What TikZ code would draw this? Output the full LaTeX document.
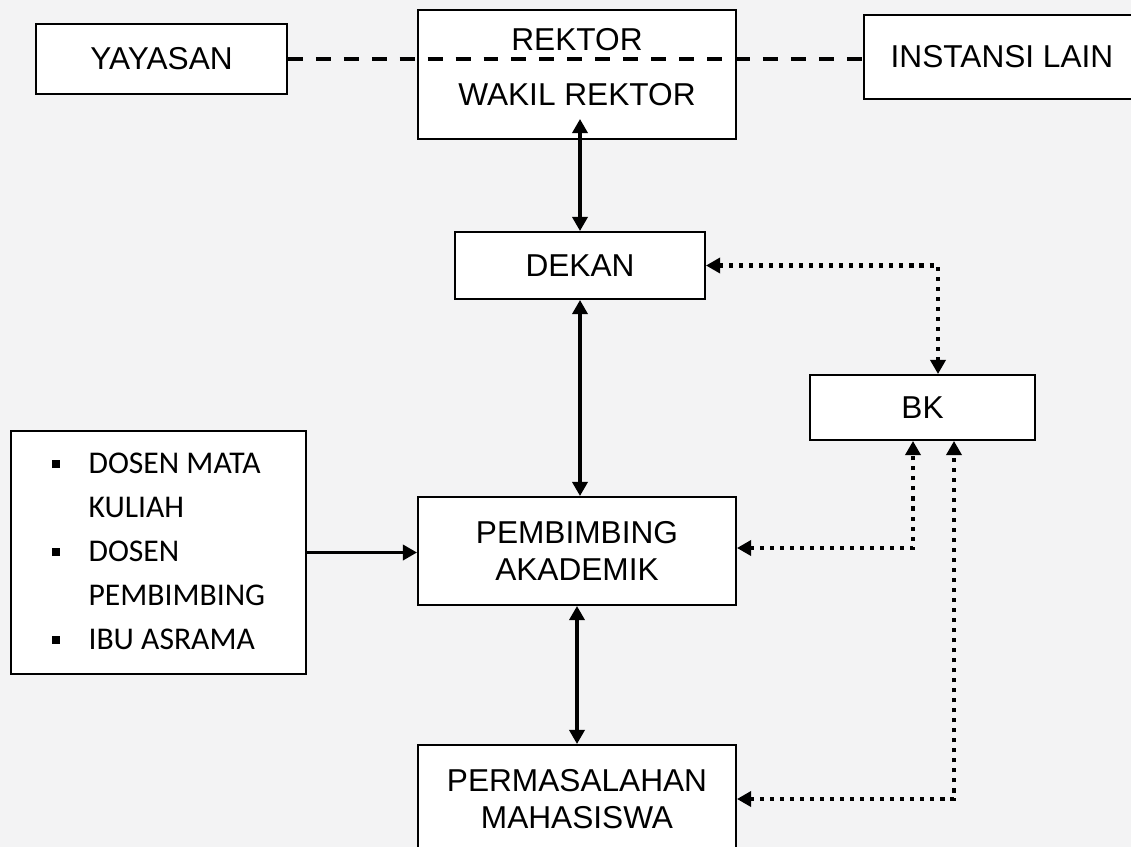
\documentclass[tikz,border=0pt]{standalone}
\usepackage{fontspec}
\setmainfont{Liberation Sans}
\newfontfamily\listfont{Carlito}
\usepackage{xcolor}
\usetikzlibrary{arrows.meta, positioning, calc}
\definecolor{bgpaper}{RGB}{243,243,244}

\begin{document}
\begin{tikzpicture}[
  box/.style={rectangle, draw=black, line width=1.1pt, fill=white, align=center, font=\fontsize{18}{21}\selectfont},
  boxtext/.style={inner sep=0pt, font=\fontsize{18}{21}\selectfont},
  arrow/.style={{Triangle[length=8pt,width=8.5pt]}-{Triangle[length=8pt,width=8.5pt]}, line width=2.2pt},
  onearrow/.style={-{Triangle[length=8pt,width=8.5pt]}, line width=2.2pt},
  dotline/.style={{Triangle[length=8pt,width=8.5pt]}-{Triangle[length=8pt,width=8.5pt]}, line width=2.3pt, dash pattern=on 2.3pt off 3.4pt},
  dashline/.style={line width=2pt, dash pattern=on 8.5pt off 7.4pt}
]
  % Page
  \fill[bgpaper] (0,0) rectangle (22.62,-16.94);
  \useasboundingbox (0,0) rectangle (22.62,-16.94);

  % Top row
  \node[box, minimum width=5.02cm, minimum height=1.4cm] (yayasan) at (3.23,-1.18) {YAYASAN};
  \node[box, minimum width=6.36cm, minimum height=2.58cm] (rektor) at (11.54,-1.49) {};
  \node[box, minimum width=5.52cm, minimum height=1.68cm] (instansi) at (20.04,-1.14) {INSTANSI LAIN};
  \draw[dashline] (yayasan.east) -- (yayasan.east -| instansi.west);
  \node[boxtext] (rektorlbl) at (11.54,-0.8) {REKTOR};
  \node[boxtext] (wakillbl) at (11.54,-1.9) {WAKIL REKTOR};

  % Middle
  \node[box, minimum width=5cm, minimum height=1.34cm] (dekan) at (11.6,-5.31) {DEKAN};
  \node[box, minimum width=4.5cm, minimum height=1.3cm] (bk) at (18.45,-8.15) {BK};
  \node[box, minimum width=6.36cm, minimum height=2.16cm] (pa) at (11.54,-11.02) {PEMBIMBING\\AKADEMIK};
  \node[box, minimum width=5.9cm, minimum height=4.86cm, font=\listfont\fontsize{18}{25}\selectfont] (dosen) at (3.17,-11.05) {%
    \begin{tabular}{@{}l@{\hspace{16.4pt}}l@{}}
      \raisebox{3pt}{\rule{4.5pt}{4.5pt}} & DOSEN MATA\\
      & KULIAH\\
      \raisebox{3pt}{\rule{4.5pt}{4.5pt}} & DOSEN\\
      & PEMBIMBING\\
      \raisebox{3pt}{\rule{4.5pt}{4.5pt}} & IBU ASRAMA
    \end{tabular}};

  % Bottom
  \node[box, minimum width=6.36cm, minimum height=2.16cm] (pm) at (11.54,-15.98) {PERMASALAHAN\\MAHASISWA};

  % Corners of the dotted lines
  \coordinate (c1) at (18.76,-5.31);
  \coordinate (c2) at (18.26,-10.96);
  \coordinate (c3) at (19.08,-15.98);

  % Arrows
  \draw[arrow] (dekan.north) -- ($(dekan.north |- rektor.south)+(0,0.42)$);
  \draw[arrow] (pa.north -| dekan.south) -- (dekan.south);
  \draw[arrow] (pm.north) -- (pa.south);
  \draw[onearrow] (dosen.east) -- (dosen.east -| pa.west);
  \draw[dotline] (dekan.east) -- (c1) -- (c1 |- bk.north);
  \draw[dotline] (c2 -| pa.east) -- (c2) -- (c2 |- bk.south);
  \draw[dotline] (pm.east) -- (c3) -- (c3 |- bk.south);
\end{tikzpicture}
\end{document}
